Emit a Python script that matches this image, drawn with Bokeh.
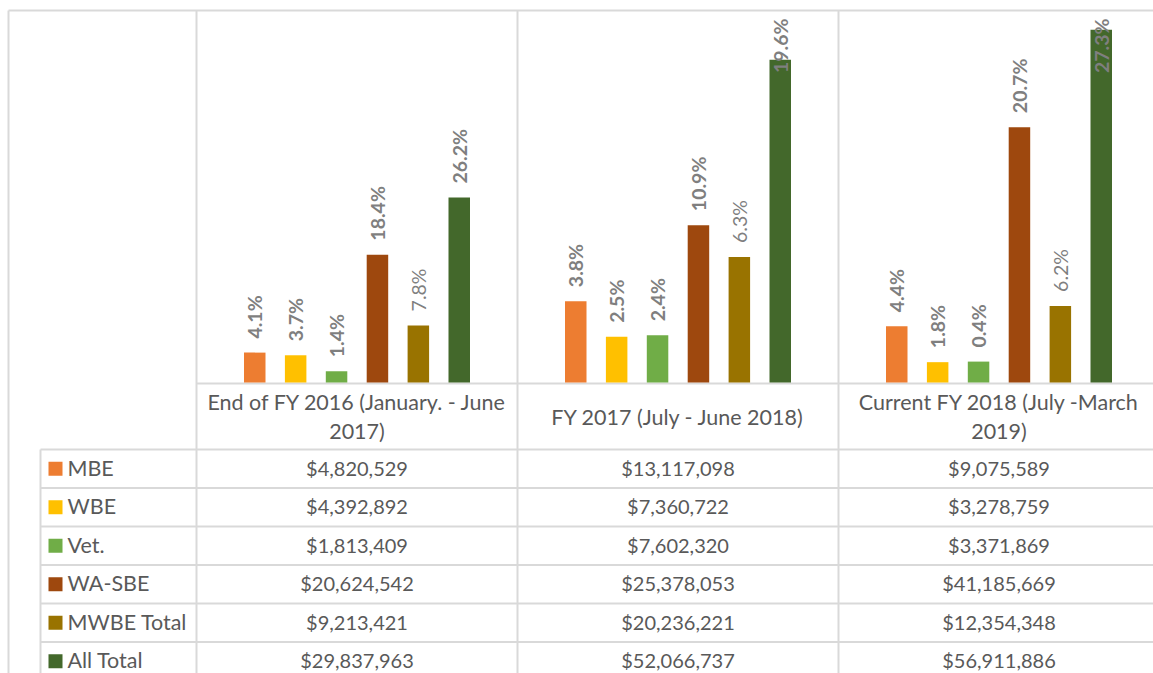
import math
from bokeh.plotting import figure
from bokeh.models import Range1d
from bokeh.core.properties import value
from bokeh.embed import file_html
from bokeh.resources import INLINE

# ---------------- data ----------------
periods = ["End of FY 2016 (January. - June\n2017)",
           "FY 2017 (July - June 2018)",
           "Current FY 2018 (July -March\n2019)"]
series = ["MBE", "WBE", "Vet.", "WA-SBE", "MWBE Total", "All Total"]
colors = ["#ED7D31", "#FFC000", "#70AD47", "#9E480E", "#997300", "#43682B"]

mbe = [4820529, 13117098, 9075589]
wbe = [4392892, 7360722, 3278759]
vet = [1813409, 7602320, 3371869]
wa_sbe = [20624542, 25378053, 41185669]
mwbe_total = [9213421, 20236221, 12354348]
all_total = [29837963, 52066737, 56911886]

pct_mbe = ["4.1%", "3.8%", "4.4%"]
pct_wbe = ["3.7%", "2.5%", "1.8%"]
pct_vet = ["1.4%", "2.4%", "0.4%"]
pct_wa_sbe = ["18.4%", "10.9%", "20.7%"]
pct_mwbe_total = ["7.8%", "6.3%", "6.2%"]
pct_all_total = ["26.2%", "19.6%", "27.3%"]

values = [mbe, wbe, vet, wa_sbe, mwbe_total, all_total]
pcts = [pct_mbe, pct_wbe, pct_vet, pct_wa_sbe, pct_mwbe_total, pct_all_total]
bold = [True, True, True, True, False, True]

YMAX = 60_000_000

# ---------------- layout (page pixels) ----------------
W, H = 1153, 673
PX0, PY0 = 0, 0
LEFT, TOP, BASE = 8, 10, 382
COL0, COLW = 196, 321
LEG_L = 40
HDR_TOP, HDR_BOT = 383, 449
ROWH = 38.5
BAR_STEP, BAR_W = 40.9, 21.5
GRID = "#d9d9d9"
TXT = "#595959"
LBL = "#7f7f7f"
FONT = value("Lato")

p = figure(width=W, height=H, x_range=Range1d(PX0, PX0 + W), y_range=Range1d(PY0 + H, PY0),
           output_backend="svg", toolbar_location=None, min_border=0,
           x_axis_location=None, y_axis_location=None, outline_line_color=None)
p.grid.visible = False
p.background_fill_color = "white"

px_per = (BASE - TOP) / YMAX
p.extra_y_ranges = {"amt": Range1d(start=(BASE - (PY0 + H)) / px_per, end=(BASE - PY0) / px_per)}

col_centers = [COL0 + COLW * (i + 0.5) for i in range(len(periods))]
right_edge = PX0 + W + 10

# grid / table lines
hx0, hx1, hy = [LEFT], [right_edge], [TOP]
hx0.append(COL0); hx1.append(right_edge); hy.append(HDR_TOP)
for k in range(len(series)):
    hx0.append(LEG_L); hx1.append(right_edge); hy.append(HDR_BOT + k * ROWH)
p.segment(x0=hx0, x1=hx1, y0=hy, y1=hy, line_color=GRID, line_width=2)
vx = [LEFT, COL0] + [COL0 + COLW * (i + 1) for i in range(len(periods) - 1)]
vy0 = [TOP] * len(vx)
vx.append(LEG_L); vy0.append(HDR_BOT)
p.segment(x0=vx, x1=vx, y0=vy0, y1=[PY0 + H + 10] * len(vx), line_color=GRID, line_width=2)

# bars + labels
for k, (name, vals, pc, col, b) in enumerate(zip(series, values, pcts, colors, bold)):
    xs = [c + (k - (len(series) - 1) / 2) * BAR_STEP for c in col_centers]
    p.vbar(x=xs, top=vals, bottom=0, width=BAR_W, y_range_name="amt",
           fill_color=col, line_color=None)
    free_x, free_y, free_t, cl_x, cl_t = [], [], [], [], []
    for x, v, t in zip(xs, vals, pc):
        if v * px_per + 15 + 58 > BASE - TOP - 6:
            cl_x.append(x); cl_t.append(t)
        else:
            free_x.append(x); free_y.append(v); free_t.append(t)
    style = "bold" if b else "normal"
    p.text(x=free_x, y=free_y, text=free_t, angle=math.pi / 2, y_range_name="amt",
           text_align="left", text_baseline="middle", y_offset=-14,
           text_font=FONT, text_font_size="19.5px", text_font_style=style, text_color=LBL)
    if cl_x:
        p.text(x=cl_x, y=[(BASE - 18) / px_per] * len(cl_x), text=cl_t, angle=math.pi / 2,
               y_range_name="amt", text_align="right", text_baseline="middle",
               text_font=FONT, text_font_size="19.5px", text_font_style=style, text_color=LBL)

# category header row
p.text(x=col_centers, y=[(HDR_TOP + HDR_BOT) / 2] * len(periods), text=periods,
       text_align="center", text_baseline="middle", text_line_height=1.1,
       text_font=FONT, text_font_size="21.5px", text_color=TXT)

# data table rows
for k, (name, vals, col) in enumerate(zip(series, values, colors)):
    yc = HDR_BOT + (k + 0.5) * ROWH
    p.rect(x=[LEG_L + 15], y=[yc], width=14, height=14, fill_color=col, line_color=None)
    p.text(x=[LEG_L + 27], y=[yc - 1], text=[name], text_align="left", text_baseline="middle",
           text_font=FONT, text_font_size="21.5px", text_color=TXT)
    p.text(x=col_centers, y=[yc - 1] * len(vals), text=["${:,}".format(v) for v in vals],
           text_align="center", text_baseline="middle",
           text_font=FONT, text_font_size="20px", text_color=TXT)

open("out.html", "w").write(file_html(p, INLINE))
